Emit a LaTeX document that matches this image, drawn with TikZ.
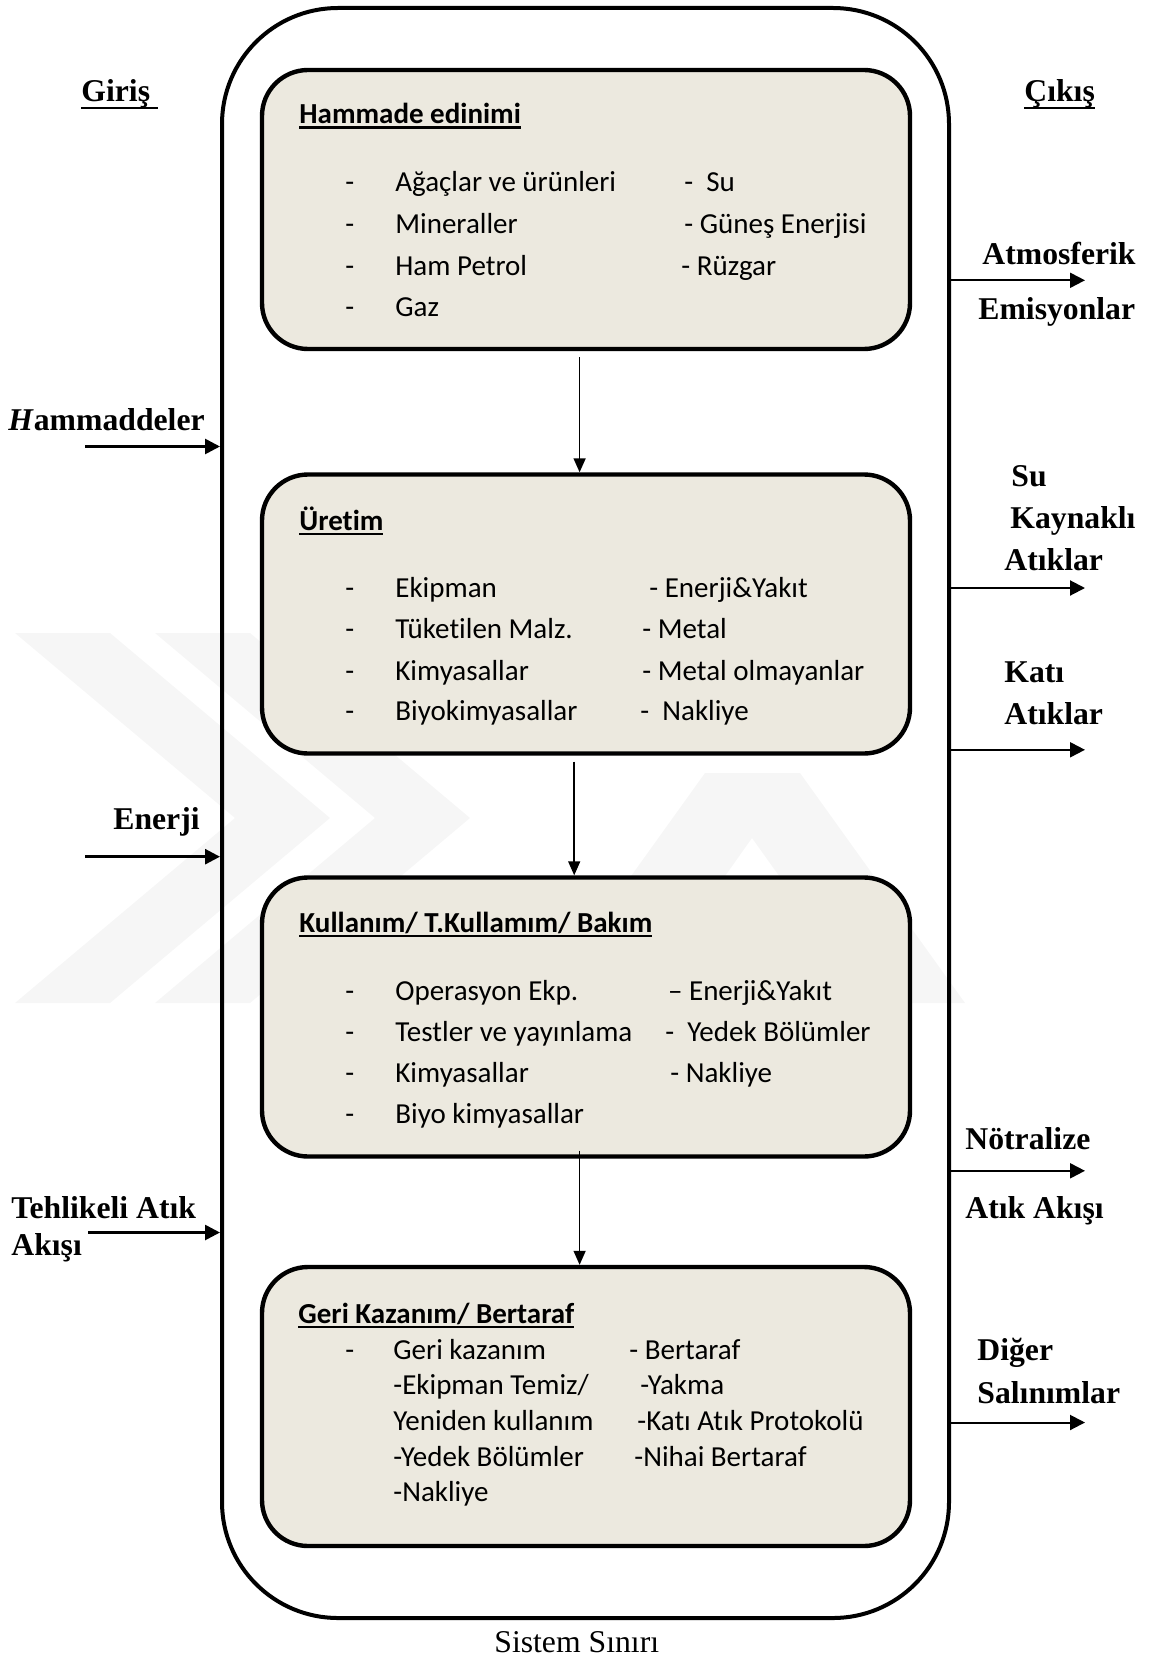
\documentclass[tikz,border=0pt]{standalone}
\usepackage{fontspec}
\setmainfont{Liberation Serif}
\newfontfamily\calib[Ligatures=NoCommon]{Carlito}
\usetikzlibrary{positioning,arrows.meta}
\definecolor{StageFill}{HTML}{ECE9DF}
\definecolor{MarkGray}{HTML}{F6F6F6}
\newcommand{\boxul}[1]{\setbox0\hbox{#1}\rlap{\rule[-2.4pt]{\wd0}{1.1pt}}\box0}
\newcommand{\sideul}[1]{\setbox0\hbox{#1}\rlap{\rule[-4pt]{\wd0}{1.4pt}}\box0}
\newcommand{\dsh}{\makebox[25pt][l]{-}}

\begin{document}
\begin{tikzpicture}[x=0.5pt, y=-0.5pt,
    sysbox/.style={draw, line width=2pt, rounded corners=58pt, minimum width=363.5pt, minimum height=805pt, inner sep=0pt},
    stage/.style={draw, line width=2.2pt, fill=StageFill, rounded corners=23pt, minimum width=324pt, minimum height=139.5pt, inner sep=0pt},
    item/.style={anchor=west, inner sep=0pt, text height=9.4pt, text depth=0pt, font=\calib\fontsize{14.5}{17}\selectfont},
    head/.style={item, font=\calib\bfseries\fontsize{14.5}{17}\selectfont},
    side/.style={anchor=west, inner sep=0pt, text height=10.5pt, text depth=0pt, font=\bfseries\fontsize{15.85}{19}\selectfont},
    flow/.style={line width=0.75pt, -{Triangle[length=7pt, width=6pt]}},
    inflow/.style={line width=1.35pt, -{Triangle[length=7.5pt, width=7.5pt]}},
    outflow/.style={line width=1pt, -{Triangle[length=7.5pt, width=7.5pt]}},
  ]
  \useasboundingbox (0,0) rectangle (1157,1658);

  \fill[MarkGray] (15,633) -- (110,633) -- (330,818) -- (110,1003) -- (15,1003) -- (235,818) -- cycle;
  \fill[MarkGray] (155,633) -- (250,633) -- (470,818) -- (250,1003) -- (155,1003) -- (375,818) -- cycle;
  \fill[MarkGray] (540,1003) -- (705,773) -- (800,773) -- (965,1003) -- (870,1003) -- (752,838) -- (635,1003) -- cycle;

  \node[sysbox] (sys) at (585.5,813) {};
  \node[stage] (hammadde) at (586,209.5) {};
  \node[stage] (uretim) at (586,614) {};
  \node[stage] (kullanim) at (586,1017) {};
  \node[stage] (gerikaz) at (586,1406.5) {};

  \draw[flow] ([xshift=-3.2pt,yshift=-3pt]hammadde.south) -- ([xshift=-3.2pt]uretim.north);
  \draw[flow] ([xshift=-5.9pt,yshift=-3pt]uretim.south) -- ([xshift=-5.9pt]kullanim.north);
  \draw[flow] ([xshift=-3.2pt,yshift=4pt]kullanim.south) -- ([xshift=-3.2pt]gerikaz.north);

  \node[head] (hamT) at (299,114.5) {\boxul{Hammade edinimi}};
  \node[item] (ham1) at (345,182.5) {\dsh Ağaçlar ve ürünleri};
  \node[item] (ham2) at (345,224) {\dsh Mineraller};
  \node[item] (ham3) at (345,266) {\dsh Ham Petrol};
  \node[item] (ham4) at (345,307) {\dsh Gaz};
  \node[item] (ham5) at (684,182.5) {-\ \ Su};
  \node[item] (ham6) at (684,224) {- Güneş Enerjisi};
  \node[item] (ham7) at (681,266) {- Rüzgar};

  \node[head] (uretT) at (299,521) {\boxul{Üretim}};
  \node[item] (uret1) at (345,588) {\dsh Ekipman};
  \node[item] (uret2) at (345,629.5) {\dsh Tüketilen Malz.};
  \node[item] (uret3) at (345,671) {\dsh Kimyasallar};
  \node[item] (uret4) at (345,711.5) {\dsh Biyokimyasallar};
  \node[item] (uret5) at (649,588) {- Enerji\&Yakıt};
  \node[item] (uret6) at (642,629.5) {- Metal};
  \node[item] (uret7) at (642,671) {- Metal olmayanlar};
  \node[item] (uret8) at (640,711.5) {-\ \ Nakliye};

  \node[head] (kullT) at (299,923) {\boxul{Kullanım/ T.Kullamım/ Bakım}};
  \node[item] (kull1) at (345,991.5) {\dsh Operasyon Ekp.};
  \node[item] (kull2) at (345,1032) {\dsh Testler ve yayınlama};
  \node[item] (kull3) at (345,1073) {\dsh Kimyasallar};
  \node[item] (kull4) at (345,1114) {\dsh Biyo kimyasallar};
  \node[item] (kull5) at (667.7,991.5) {– Enerji\&Yakıt};
  \node[item] (kull6) at (665,1032) {-\ \ Yedek Bölümler};
  \node[item] (kull7) at (670,1073) {- Nakliye};

  \node[head] (geriT) at (298,1314) {\boxul{Geri Kazanım/ Bertaraf}};
  \node[item] (geri1) at (345,1350) {\makebox[24pt][l]{-}Geri kazanım};
  \node[item] (geri2) at (393,1385.5) {-Ekipman Temiz/};
  \node[item] (geri3) at (393,1421.5) {Yeniden kullanım};
  \node[item] (geri4) at (393,1457) {-Yedek Bölümler};
  \node[item] (geri5) at (393,1492.5) {-Nakliye};
  \node[item] (geri6) at (629,1350) {- Bertaraf};
  \node[item] (geri7) at (640,1385.5) {-Yakma};
  \node[item] (geri8) at (637,1421.5) {-Katı Atık Protokolü};
  \node[item] (geri9) at (634,1457) {-Nihai Bertaraf};

  \node[side] (giris) at (81,91) {\sideul{Giriş\ }};
  \node[side] (cikis) at (1024,91) {\sideul{Çıkış}};
  \node[side] (hamin) at (8,420) {\textit{H}ammaddeler};
  \node[side] (enjin) at (113,819) {Enerji};
  \node[side] (tehin1) at (11,1208) {Tehlikeli Atık};
  \node[side] (tehin2) at (11,1245) {Akışı};
  \node[side] (atm1) at (982,254) {Atmosferik};
  \node[side] (atm2) at (978,309) {Emisyonlar};
  \node[side] (su1) at (1011,476) {Su};
  \node[side] (su2) at (1010,518) {Kaynaklı};
  \node[side] (su3) at (1004,560) {Atıklar};
  \node[side] (kat1) at (1004,672) {Katı};
  \node[side] (kat2) at (1004,714) {Atıklar};
  \node[side] (not1) at (965,1139) {Nötralize};
  \node[side] (not2) at (965,1208) {Atık Akışı};
  \node[side] (dig1) at (977,1349.5) {Diğer};
  \node[side] (dig2) at (977,1392.5) {Salınımlar};
  \node[side, font=\fontsize{15.85}{19}\selectfont] (sinir) at (494,1642) {Sistem Sınırı};

  \coordinate (hamsrc) at (85,446.5);
  \coordinate (enjsrc) at (85,856.7);
  \coordinate (tehsrc) at (88,1232.5);
  \draw[inflow] (hamsrc) -- (hamsrc -| sys.west);
  \draw[inflow] (enjsrc) -- (enjsrc -| sys.west);
  \draw[inflow] (tehsrc) -- (tehsrc -| sys.west);

  \coordinate (atmdst) at (1085,280.3);
  \coordinate (sudst) at (1085,588);
  \coordinate (katdst) at (1085,749.8);
  \coordinate (notdst) at (1085,1170.8);
  \coordinate (digdst) at (1085,1422.5);
  \draw[outflow] (atmdst -| sys.east) -- (atmdst);
  \draw[outflow] (sudst -| sys.east) -- (sudst);
  \draw[outflow] (katdst -| sys.east) -- (katdst);
  \draw[outflow] (notdst -| sys.east) -- (notdst);
  \draw[outflow] (digdst -| sys.east) -- (digdst);
\end{tikzpicture}
\end{document}
